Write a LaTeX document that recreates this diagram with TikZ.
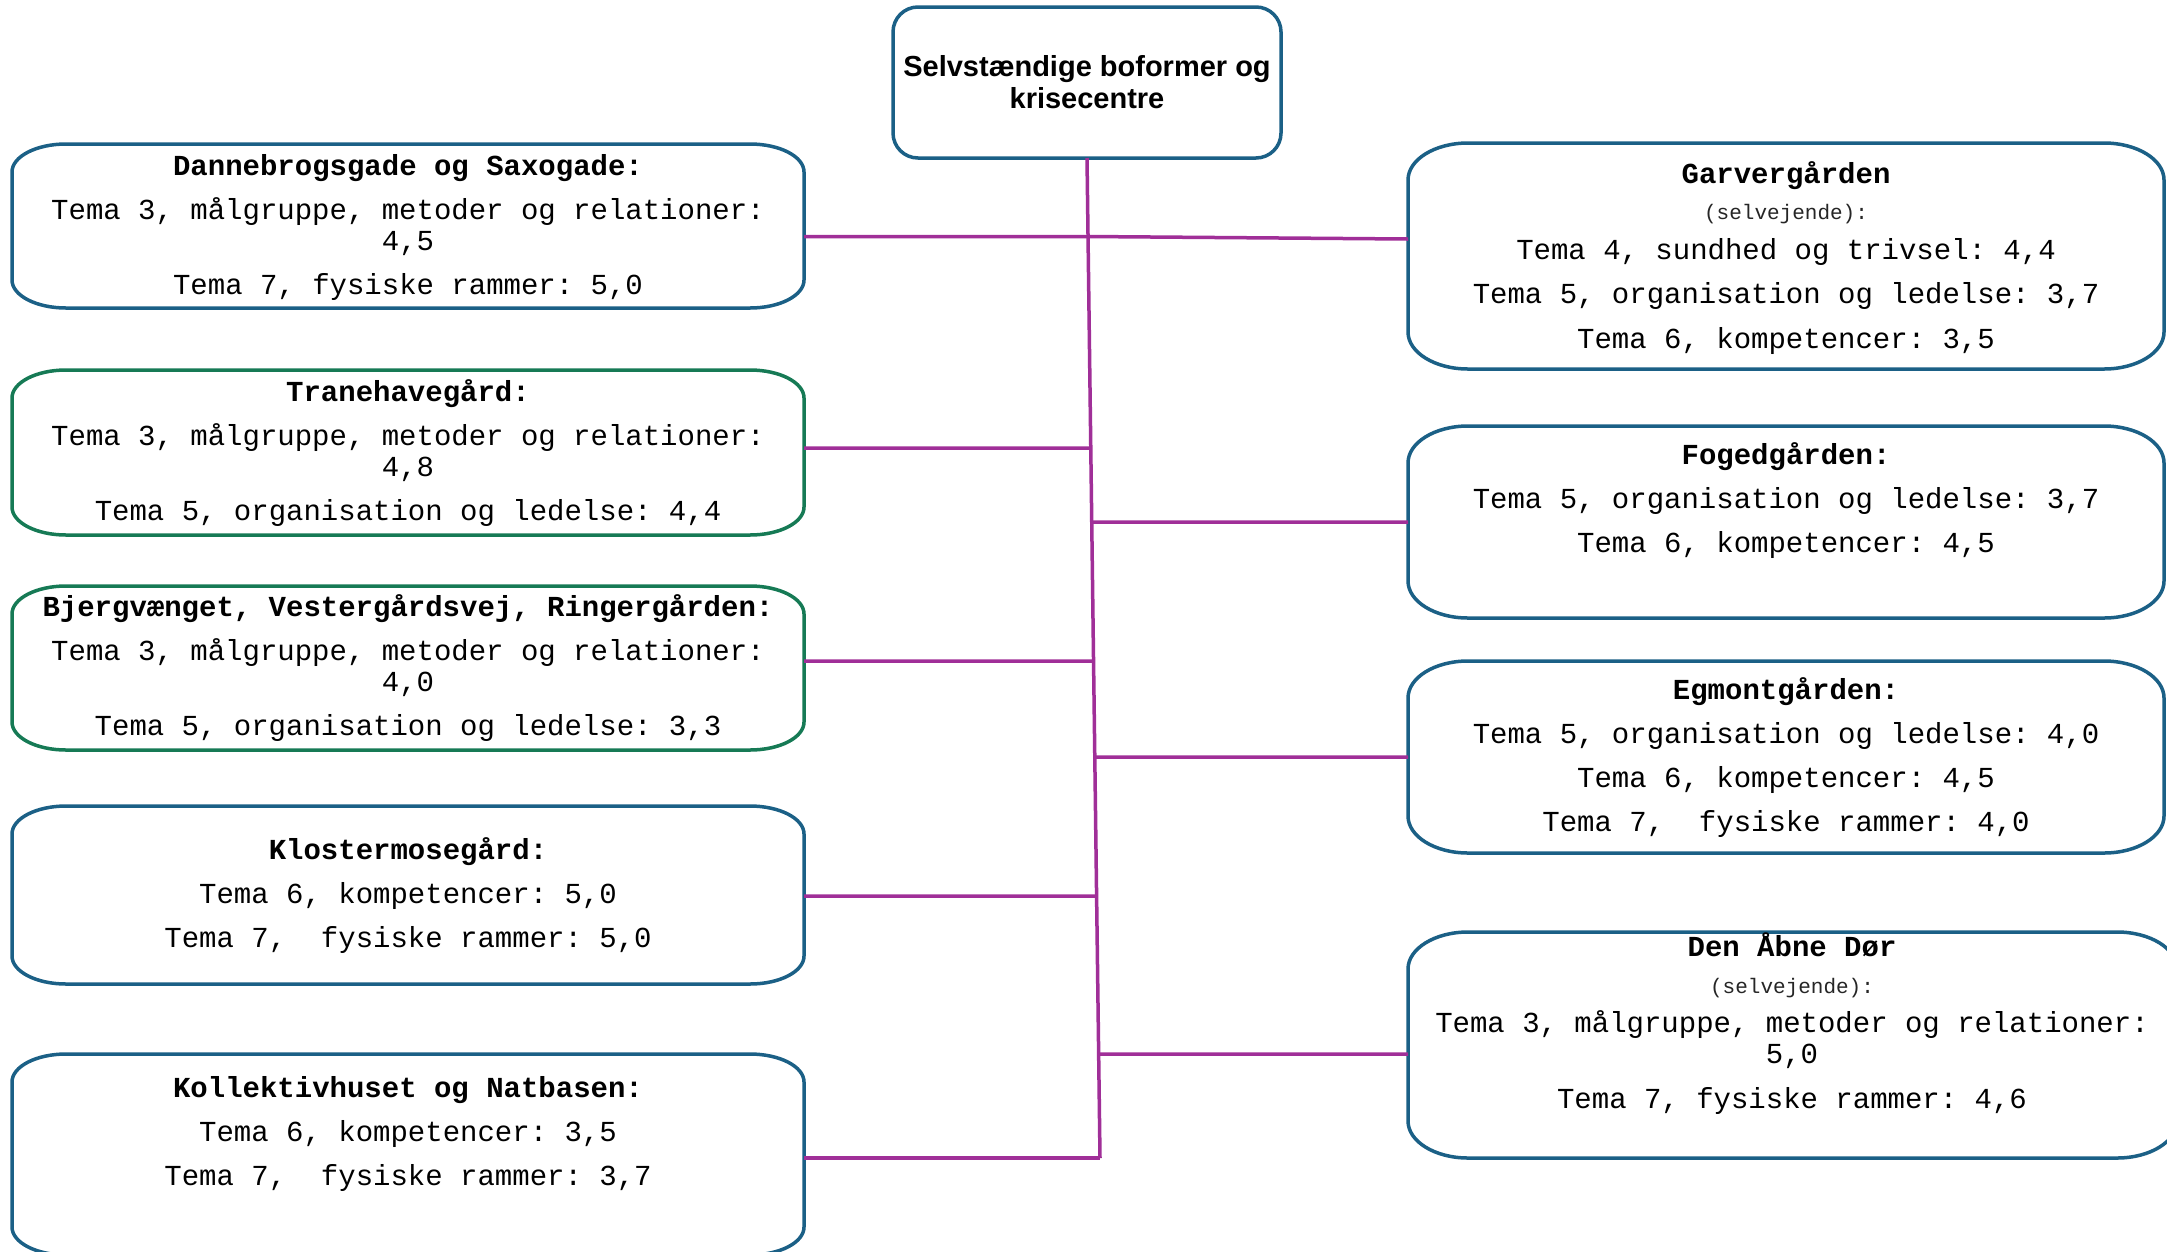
\documentclass[tikz,border=0pt]{standalone}
\usepackage{fontspec}
\setmainfont{Liberation Serif}
\setsansfont{Liberation Sans}
\setmonofont{Liberation Mono}
\usetikzlibrary{calc,intersections}
\definecolor{boxblue}{RGB}{27,96,134}
\definecolor{boxgreen}{RGB}{22,122,85}
\definecolor{linkpurple}{RGB}{160,47,152}
\tikzset{
  area/.style={inner sep=0pt, outer sep=0pt, minimum width=#1},
  boxline/.style={line width=3.5pt},
  link/.style={draw=linkpurple, line width=3.5pt},
  txt/.style={font=\ttfamily\fontsize{29}{31}\selectfont, align=center, inner sep=0pt, anchor=base},
}
\newcommand\sv{{\fontsize{21}{31}\selectfont\color{black!85}(selvejende):}}
\newcommand\rbox[4]{\draw[boxline,draw=#2]
  ([xshift=#3pt]#1.north west) -- ([xshift=-#3pt]#1.north east)
  arc[start angle=90,end angle=0,x radius=#3pt,y radius=#4pt]
  -- ([yshift=#4pt]#1.south east)
  arc[start angle=0,end angle=-90,x radius=#3pt,y radius=#4pt]
  -- ([xshift=#3pt]#1.south west)
  arc[start angle=270,end angle=180,x radius=#3pt,y radius=#4pt]
  -- ([yshift=-#4pt]#1.north west)
  arc[start angle=180,end angle=90,x radius=#3pt,y radius=#4pt] -- cycle;}
% horizontal connector from a box side to the trunk; junction named j<#3>
\newcommand\hlink[3]{%
  \path[name path=h#3] (#1) -- ++(#2,0);
  \draw[link, name intersections={of=trunk and h#3, by=j#3}] (#1) -- (j#3);}
\begin{document}
\begin{tikzpicture}[x=1pt,y=-1pt]
\useasboundingbox (0,0) rectangle (2167,1251);
\fill[white] (0,0) rectangle (2167,1251);

% title
\node[area=388pt, minimum height=151pt, font=\sffamily\bfseries\fontsize{29}{32}\selectfont, align=center] (title) at (1087,82.5) {Selvstændige boformer og\\krisecentre};
\rbox{title}{boxblue}{25}{25}

% left boxes
\node[area=792pt, minimum height=164pt] (b1) at (408,226) {};
\node[area=792pt, minimum height=165pt] (b2) at (408,452.5) {};
\node[area=792pt, minimum height=164pt] (b3) at (408,668) {};
\node[area=792pt, minimum height=178pt] (b4) at (408,895) {};
\node[area=792pt, minimum height=201pt] (b5) at (408,1154.5) {};
\rbox{b1}{boxblue}{54}{28}
\rbox{b2}{boxgreen}{54}{28}
\rbox{b3}{boxgreen}{54}{28}
\rbox{b4}{boxblue}{54}{28}
\rbox{b5}{boxblue}{54}{28}

% right boxes
\node[area=756pt, minimum height=226pt] (r1) at (1786,256) {};
\node[area=756pt, minimum height=192pt] (r2) at (1786,522) {};
\node[area=756pt, minimum height=192pt] (r3) at (1786,757) {};
\node[area=769pt, minimum height=226pt] (r4) at (1792.5,1045) {};
\rbox{r1}{boxblue}{60}{37}
\rbox{r2}{boxblue}{60}{37}
\rbox{r3}{boxblue}{60}{37}
\rbox{r4}{boxblue}{60}{37}

% texts (anchored at the baseline of their last line)
\node[txt] (b1t) at (408,294) {\textbf{Dannebrogsgade og Saxogade:}\\[13pt]Tema 3, målgruppe, metoder og relationer:\\4,5\\[13pt]Tema 7, fysiske rammer: 5,0};
\node[txt] (b2t) at (408,520) {\textbf{Tranehavegård:}\\[13pt]Tema 3, målgruppe, metoder og relationer:\\4,8\\[13pt]Tema 5, organisation og ledelse: 4,4};
\node[txt] (b3t) at (408,735) {\textbf{Bjergvænget, Vestergårdsvej, Ringergården:}\\[13pt]Tema 3, målgruppe, metoder og relationer:\\4,0\\[13pt]Tema 5, organisation og ledelse: 3,3};
\node[txt] (b4t) at (408,947) {\textbf{Klostermosegård:}\\[13pt]Tema 6, kompetencer: 5,0\\[13pt]Tema 7,\ \ fysiske rammer: 5,0};
\node[txt] (b5t) at (408,1185) {\textbf{Kollektivhuset og Natbasen:}\\[13pt]Tema 6, kompetencer: 3,5\\[13pt]Tema 7,\ \ fysiske rammer: 3,7};

\node[txt] (r1t) at (1786,348) {\textbf{Garvergården}\\[5pt]\sv\\[9pt]Tema 4, sundhed og trivsel: 4,4\\[13pt]Tema 5, organisation og ledelse: 3,7\\[14pt]Tema 6, kompetencer: 3,5};
\node[txt] (r2t) at (1786,552) {\textbf{Fogedgården:}\\[13pt]Tema 5, organisation og ledelse: 3,7\\[13pt]Tema 6, kompetencer: 4,5};
\node[txt] (r3t) at (1786,831) {\textbf{Egmontgården:}\\[13pt]Tema 5, organisation og ledelse: 4,0\\[13pt]Tema 6, kompetencer: 4,5\\[13pt]Tema 7,\ \ fysiske rammer: 4,0};
\node[txt] (r4t) at (1792,1108) {\textbf{Den Åbne Dør}\\[6pt]\sv\\[8pt]Tema 3, målgruppe, metoder og relationer:\\5,0\\[14pt]Tema 7, fysiske rammer: 4,6};

% connectors
\coordinate (tb) at (1100,1158);
\draw[link, name path=trunk] (title.south) -- (tb);
\hlink{[yshift=-10.5pt]b1.east}{600}{1}
\draw[link] (j1) -- ([yshift=17pt]r1.west);
\hlink{[yshift=4.5pt]b2.east}{600}{2}
\hlink{[yshift=7pt]b3.east}{600}{3}
\hlink{[yshift=-1pt]b4.east}{600}{4}
\draw[link] ([yshift=-3.5pt]b5.east) -- (tb);
\hlink{r2.west}{-600}{6}
\hlink{r3.west}{-600}{7}
\hlink{[yshift=-9pt]r4.west}{-600}{8}
\end{tikzpicture}
\end{document}
